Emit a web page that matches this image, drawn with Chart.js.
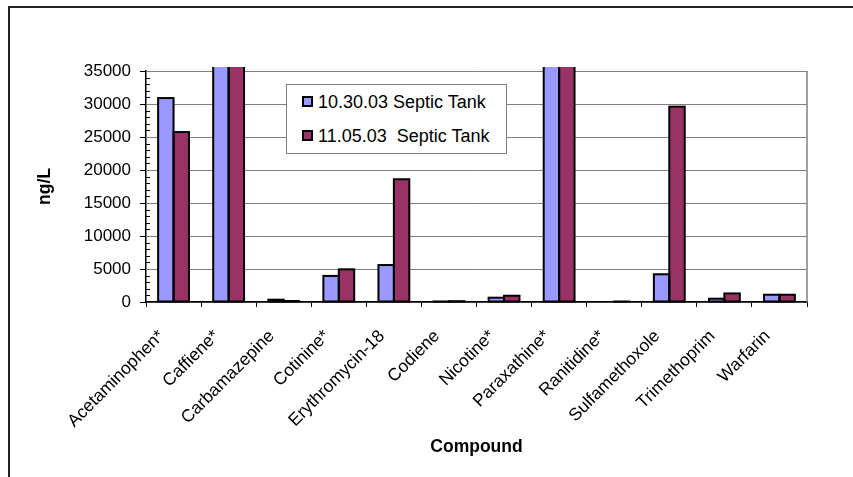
<!DOCTYPE html>
<html>
<head>
<meta charset="utf-8">
<script src="https://cdn.jsdelivr.net/npm/chart.js@4.4.1/dist/chart.umd.min.js"></script>
<style>
html,body{margin:0;padding:0;background:#fff;}
#wrap{position:relative;width:853px;height:477px;overflow:hidden;}
#wrap canvas{position:absolute;left:0;top:0;}
#frame{position:absolute;left:8px;top:6px;width:900px;height:600px;border-top:2px solid #222;border-left:2px solid #222;box-sizing:border-box;pointer-events:none;}
#legend{position:absolute;left:286px;top:84px;width:221px;height:70px;box-sizing:border-box;border:1.5px solid #808080;background:#fff;font-family:'Liberation Sans',Arial,sans-serif;font-size:18px;color:#000;}
#legend .sw{position:absolute;left:15px;width:11px;height:11px;box-sizing:border-box;border:2px solid #000;}
#legend .tx{position:absolute;left:31px;height:20px;line-height:20px;white-space:pre;}
</style>
</head>
<body>
<div id="wrap">
  <canvas id="c" width="853" height="477"></canvas>
  <div id="frame"></div>
  <div id="legend"></div>
</div>
<script>
// ---- data ----
const categories = ['Acetaminophen*','Caffiene*','Carbamazepine','Cotinine*','Erythromycin-18','Codiene','Nicotine*','Paraxathine*','Ranitidine*','Sulfamethoxole','Trimethoprim','Warfarin'];
const seriesNames = ['10.30.03 Septic Tank', '11.05.03  Septic Tank'];
// Caffiene* and Paraxathine* run off the top of the 35000 scale (values estimated, clipped)
const septic103003 = [30900, 60000, 350, 3950, 5600, 80, 650, 50000, null, 4200, 500, 1100];
const septic110503 = [25750, 55000, 150, 4950, 18600, 120, 950, 45000, 60, 29600, 1300, 1100];
const seriesColors = ['#9999FF', '#993366'];
const yMin = 0, yMax = 35000, yStep = 5000, yMinorStep = 1000;

const FONT = "'Liberation Sans', Arial, sans-serif";
Chart.defaults.font.family = FONT;
Chart.defaults.color = '#000';

const extras = {
  id: 'extras',
  afterDatasetsDraw(chart) {
    // Excel-style bar outlines (stroke centred on the bar edges)
    const {ctx, chartArea: a} = chart;
    ctx.save();
    ctx.beginPath();
    ctx.rect(a.left, a.top - 4, a.right - a.left, a.bottom - a.top + 6);
    ctx.clip();
    ctx.strokeStyle = '#000';
    ctx.lineWidth = 2;
    chart.data.datasets.forEach((ds, di) => {
      const meta = chart.getDatasetMeta(di);
      meta.data.forEach((el, i) => {
        if (ds.data[i] === null || ds.data[i] === undefined) return;
        const {x, y, base, width} = el.getProps(['x', 'y', 'base', 'width'], true);
        const top = Math.max(y, a.top - 10);
        ctx.strokeRect(x - width / 2, top, width, base - top);
      });
    });
    ctx.restore();
  },
  afterDraw(chart) {
    const {ctx, chartArea: a, scales: {y}} = chart;
    ctx.save();
    // plot area right border
    ctx.strokeStyle = '#808080';
    ctx.lineWidth = 1.5;
    ctx.beginPath();
    ctx.moveTo(a.right, a.top);
    ctx.lineTo(a.right, a.bottom);
    ctx.stroke();
    // minor ticks on the value axis
    ctx.strokeStyle = '#000';
    ctx.lineWidth = 1;
    ctx.beginPath();
    for (let v = yMin; v <= yMax; v += yMinorStep) {
      if (v % yStep === 0) continue;
      const py = Math.round(y.getPixelForValue(v)) + 0.5;
      ctx.moveTo(a.left, py);
      ctx.lineTo(a.left + 4, py);
    }
    ctx.stroke();
    ctx.restore();
  }
};

const datasets = [septic103003, septic110503].map((d, i) => ({
  label: seriesNames[i],
  data: d,
  backgroundColor: seriesColors[i],
  borderWidth: 0,
  clip: {left: 0, top: 4, right: 0, bottom: 0}
}));

new Chart(document.getElementById('c'), {
  type: 'bar',
  data: {labels: categories, datasets},
  options: {
    responsive: false,
    animation: false,
    devicePixelRatio: 1,
    categoryPercentage: 0.56,
    barPercentage: 1,
    layout: {padding: {left: 0, top: 71, right: 46, bottom: 0}},
    plugins: {legend: {display: false}, tooltip: {enabled: false}},
    scales: {
      x: {
        grid: {display: true, drawOnChartArea: false, drawTicks: true, tickLength: 5, color: '#000', offset: true, lineWidth: 1},
        border: {display: true, color: '#000', width: 1.5},
        ticks: {autoSkip: false, maxRotation: 45, minRotation: 45, padding: 19, labelOffset: -12, color: '#000', font: {size: 17.5}},
        title: {display: true, text: 'Compound', color: '#000', font: {size: 17.5, weight: 'bold'}, padding: {top: 0, bottom: 19.5}},
        afterFit(s) { s.height = 175; }
      },
      y: {
        min: yMin, max: yMax,
        ticks: {stepSize: yStep, padding: 9, color: '#000', font: {size: 17}, callback: v => String(v)},
        grid: {color: '#808080', lineWidth: 1, tickLength: 6, tickColor: '#000', drawTicks: true},
        border: {display: true, color: '#000', width: 1.5},
        title: {display: true, text: 'ng/L', color: '#000', font: {size: 17.5, weight: 'bold'}, padding: {top: 35, bottom: 0}},
        afterFit(s) { s.width = 146; }
      }
    }
  },
  plugins: [extras]
});

// legend built from the series names and colours
const legend = document.getElementById('legend');
const swTops = [11, 45];
const txTops = [6.5, 40.5];
seriesNames.forEach((name, i) => {
  const sw = document.createElement('div');
  sw.className = 'sw';
  sw.style.top = swTops[i] + 'px';
  sw.style.background = seriesColors[i];
  legend.appendChild(sw);
  const tx = document.createElement('div');
  tx.className = 'tx';
  tx.style.top = txTops[i] + 'px';
  tx.textContent = name;
  legend.appendChild(tx);
});
</script>
</body>
</html>
